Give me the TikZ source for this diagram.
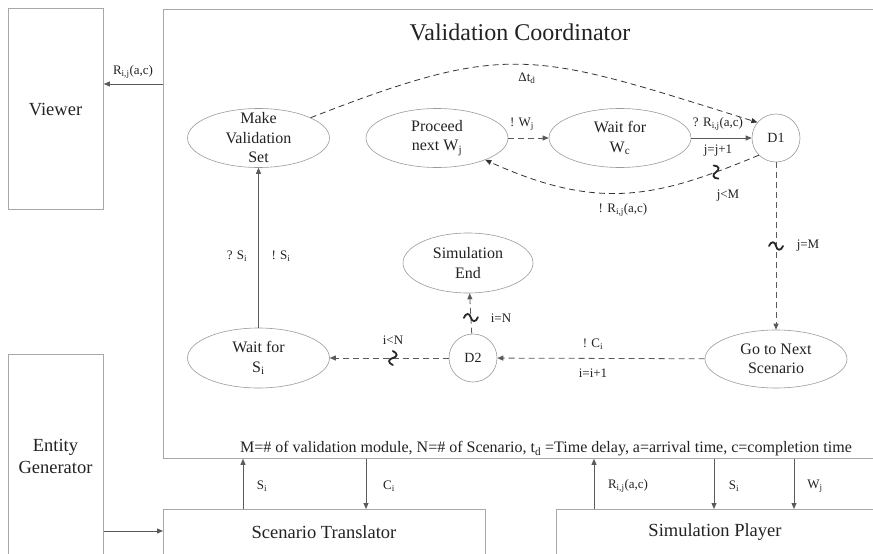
\documentclass[tikz,border=0pt]{standalone}
\usepackage{fontspec}
\setmainfont{Liberation Serif}
\usetikzlibrary{shapes.geometric,arrows.meta,calc}
\definecolor{boxgray}{HTML}{A8A8A8}
\definecolor{ellgray}{HTML}{9A9A9A}
\definecolor{argray}{HTML}{5A5A5A}
\definecolor{curvegray}{HTML}{333333}
\definecolor{txt}{HTML}{222222}
\begin{document}
\begin{tikzpicture}[x=1pt,y=-1pt,
 box/.style={draw=boxgray, line width=0.8pt, inner sep=0pt, rectangle},
 ell/.style={draw=ellgray, ellipse, line width=0.6pt, minimum width=142pt, minimum height=59pt, inner sep=0pt},
 dnode/.style={draw=ellgray, circle, line width=0.6pt, minimum size=48pt, inner sep=0pt, text=txt, font=\fontsize{14}{16}\selectfont},
 etext/.style={align=center, font=\fontsize{16}{19.5}\selectfont, inner sep=0pt, text=txt},
 btext/.style={align=center, font=\fontsize{18.5}{22}\selectfont, inner sep=0pt, text=txt},
 lbl/.style={font=\fontsize{13}{15}\selectfont, inner sep=0pt, text=txt},
 arr/.style={draw=argray, line width=0.8pt, -{Triangle[length=6pt,width=5pt]}},
 darr/.style={arr, dash pattern=on 6pt off 4pt},
 carr/.style={darr, draw=curvegray},
 squig/.pic={\draw[line width=1.8pt, draw=black!85, solid, line cap=round] (0,-7) .. controls (5,-5) and (5,-1) .. (0,0) .. controls (-5,1) and (-5,5) .. (0,7);}
]
\useasboundingbox (0,0) rectangle (873,554);

% outer boxes
\node[box, minimum width=95pt, minimum height=201pt, anchor=north west] (viewer) at (8,8) {};
\node[btext] (viewer-t) at (55.5,110) {Viewer};
\node[box, minimum width=760pt, minimum height=449pt, anchor=north west] (vc) at (163,9) {};
\node[font=\fontsize{24}{28}\selectfont, text=txt, inner sep=0pt] (vc-t) at (520,32) {Validation Coordinator};
\node[box, minimum width=95pt, minimum height=250pt, anchor=north west] (eg) at (8,354) {};
\node[btext] (eg-t) at (55.5,456) {Entity\\Generator};
\node[box, minimum width=322pt, minimum height=100pt, anchor=north west] (st) at (163,509) {};
\node[btext] (st-t) at (324,532) {Scenario Translator};
\node[box, minimum width=400pt, minimum height=100pt, anchor=north west] (sp) at (556,509) {};
\node[btext] (sp-t) at (715,532) {Simulation Player};

% states
\node[ell] (make) at (258.5,138) {};
\node[etext] (make-t) at (make) {Make\\Validation\\Set};
\node[ell] (proceed) at (437,138) {};
\node[etext] (proceed-t) at (proceed) {Proceed\\next W\textsubscript{j}};
\node[ell] (waitw) at (620,138) {};
\node[etext] (waitw-t) at (waitw) {Wait for\\W\textsubscript{c}};
\node[dnode] (d1) at (776,138) {D1};
\node[ell, minimum width=130pt, minimum height=60pt] (simend) at (468,263) {};
\node[etext] (simend-t) at (simend) {Simulation\\End};
\node[ell, minimum height=60pt] (waits) at (258.5,358) {};
\node[etext] (waits-t) at (waits) {Wait for\\S\textsubscript{i}};
\node[dnode] (d2) at (473,358) {D2};
\node[ell, minimum height=58pt] (gonext) at (776,359) {};
\node[etext] (gonext-t) at (gonext) {Go to Next\\Scenario};

% connectors inside coordinator
\draw[arr] (waits) -- (make);
\node[lbl] (l-qs) at (237,256) {? S\textsubscript{i}};
\node[lbl] (l-es) at (281,256) {! S\textsubscript{i}};

\draw[carr] (make) .. controls (510,40) and (532,52) .. (d1.140);
\node[lbl] (l-dt) at (527,78) {Δt\textsubscript{d}};

\draw[darr] (proceed) -- (waitw);
\node[lbl] (l-w) at (522,124) {! W\textsubscript{j}};

\draw[arr] (waitw) -- (d1);
\node[lbl] (l-qr) at (718,124) {? R\textsubscript{i,j}(a,c)};
\node[lbl] (l-jj) at (718,151) {j=j+1};

\draw[carr] (d1.225) .. controls (658,197) and (600,212) .. (proceed);
\path (d1.225) .. controls (658,197) and (600,212) .. (proceed) pic[pos=0.15, sloped]{squig};
\node[lbl] (l-jm) at (728,196) {j<M};
\node[lbl] (l-er) at (623,210) {! R\textsubscript{i,j}(a,c)};

\draw[darr] (d1) -- (gonext);
\path (d1) -- (gonext) pic[pos=0.5, sloped]{squig};
\node[lbl] (l-jeq) at (808,246) {j=M};

\draw[darr] (gonext) -- (d2);
\node[lbl] (l-c) at (593,344) {! C\textsubscript{i}};
\node[lbl] (l-ii) at (593,373) {i=i+1};

\draw[darr] (d2) -- (simend);
\path (d2) -- (simend) pic[pos=0.4, sloped]{squig};
\node[lbl] (l-in) at (501,318) {i=N};

\draw[darr] (d2) -- (waits);
\path (d2) -- (waits) pic[pos=0.47, sloped]{squig};
\node[lbl] (l-il) at (393,340) {i<N};

% legend
\node[font=\fontsize{16}{18}\selectfont, text=txt, inner sep=0pt] (legend) at (546,449) {M=\# of validation module, N=\# of Scenario, t\textsubscript{d} =Time delay, a=arrival time, c=completion time};

% external connectors
\coordinate (yv) at (0,84);
\draw[arr] (vc.west |- yv) -- (viewer.east |- yv);
\node[lbl] (l-vr) at (133,72) {R\textsubscript{i,j}(a,c)};

\coordinate (ye) at (0,531);
\draw[arr] (eg.east |- ye) -- (st.west |- ye);

\coordinate (xa) at (243,0);
\coordinate (xb) at (366,0);
\coordinate (xc) at (594,0);
\coordinate (xd) at (714,0);
\coordinate (xe) at (794,0);
\draw[arr] (st.north -| xa) -- (vc.south -| xa);
\node[lbl] (l-bs) at (262,486) {S\textsubscript{i}};
\draw[arr] (vc.south -| xb) -- (st.north -| xb);
\node[lbl] (l-bc) at (389,486) {C\textsubscript{i}};
\draw[arr] (sp.north -| xc) -- (vc.south -| xc);
\node[lbl] (l-br) at (628,486) {R\textsubscript{i,j}(a,c)};
\draw[arr] (vc.south -| xd) -- (sp.north -| xd);
\node[lbl] (l-bs2) at (734,486) {S\textsubscript{i}};
\draw[arr] (vc.south -| xe) -- (sp.north -| xe);
\node[lbl] (l-bw) at (815,486) {W\textsubscript{j}};
\end{tikzpicture}
\end{document}
